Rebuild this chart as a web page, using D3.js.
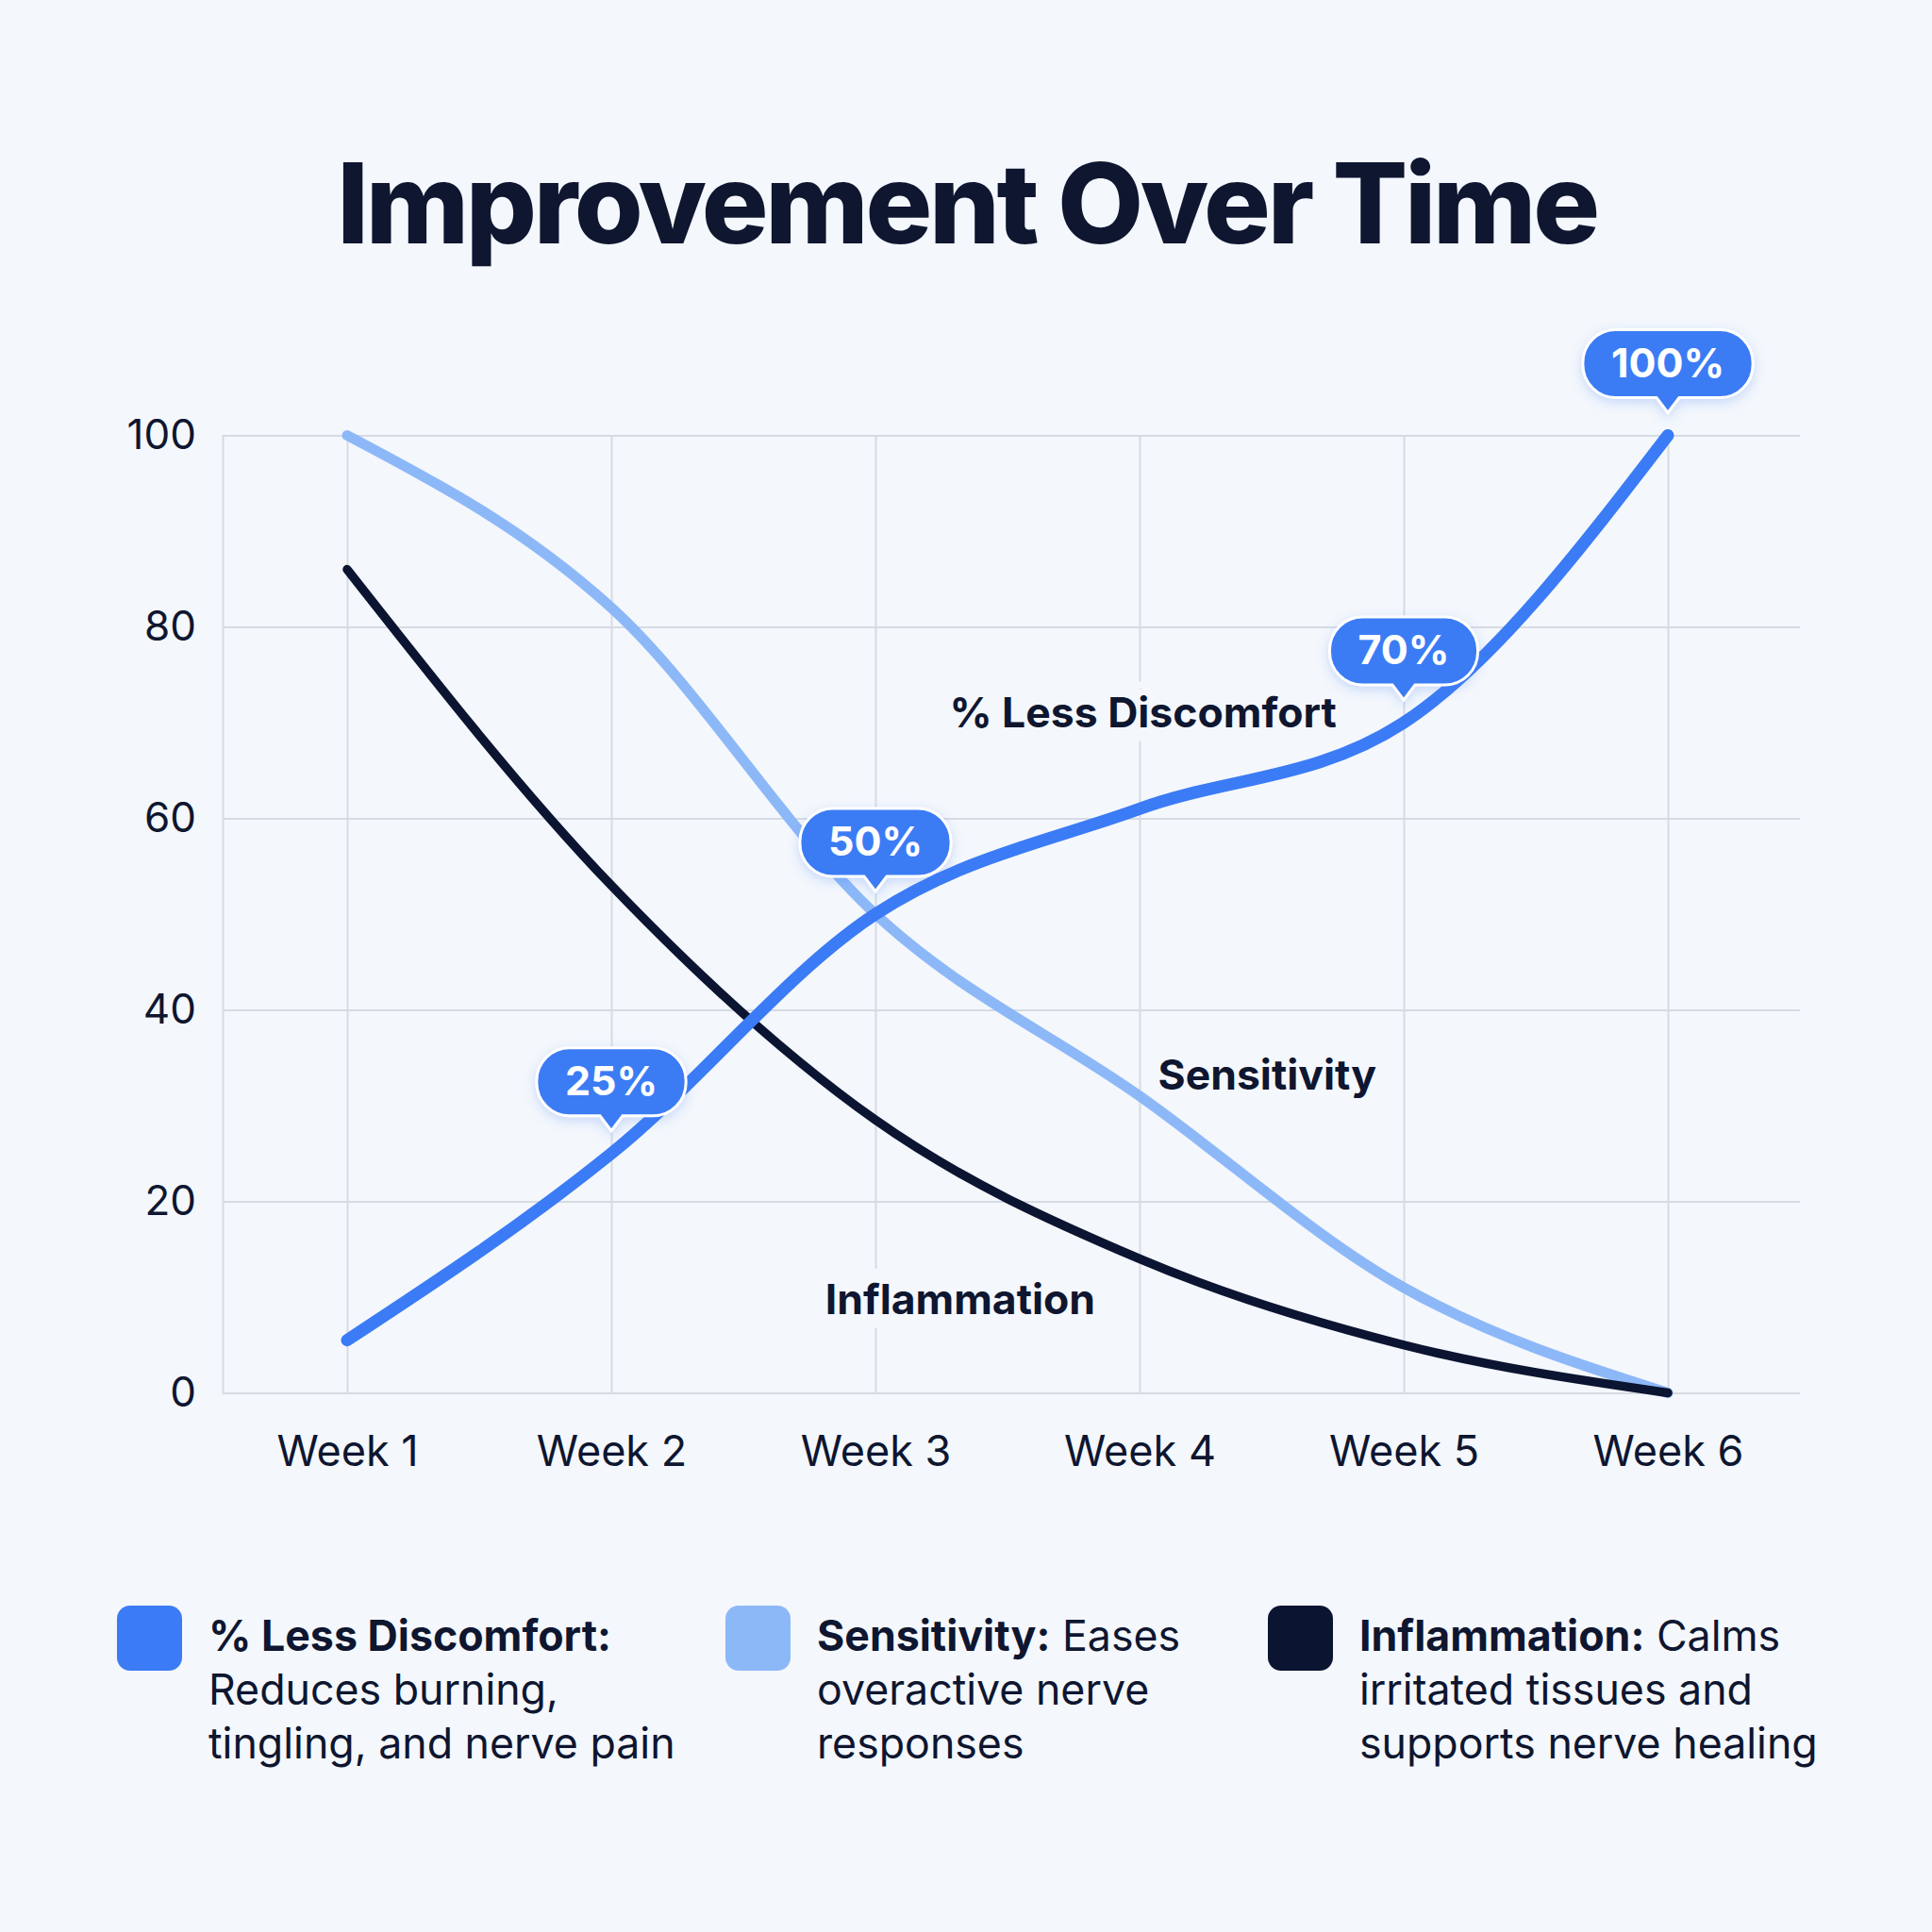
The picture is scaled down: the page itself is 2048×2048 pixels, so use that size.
<!DOCTYPE html>
<html>
<head>
<meta charset="utf-8">
<script src="https://cdn.jsdelivr.net/npm/d3@7"></script>
<style>
  html, body { margin: 0; padding: 0; background: #f4f7fc; }
  svg { display: block; }
  text { font-family: Inter, "Noto Sans", sans-serif; }
</style>
</head>
<body>
<script>
// ---- data ----
const weeks = ["Week 1", "Week 2", "Week 3", "Week 4", "Week 5", "Week 6"];
const discomfort   = [5.5, 25, 50, 61, 70, 100];
const sensitivity  = [100, 82, 50, 31, 11, 0];
const inflammation = [86, 53, 28.5, 14, 5, 0];
const yTicks = [0, 20, 40, 60, 80, 100];
const calloutWeeks  = ["Week 2", "Week 3", "Week 5", "Week 6"];
const calloutValues = [25, 50, 70, 100];
const calloutLabels = ["25%", "50%", "70%", "100%"];
const seriesNames = ["% Less Discomfort", "Sensitivity", "Inflammation"];
const legendLines = [
  [": ", "Reduces burning,", "tingling, and nerve pain"],
  [": Eases", "overactive nerve", "responses"],
  [": Calms", "irritated tissues and", "supports nerve healing"]
];
const title = "Improvement Over Time";

// ---- layout ----
const W = 2048, H = 2048;
const colors = ["#3b7bf5", "#8db8f8", "#0b1431"];
const widths = [13, 11, 9.5];
const ink = "#0e1630";
const bg = "#f4f7fc";
const grid = "#d6dbe3";

const plot = { left: 236, right: 1908, top: 461.5, bottom: 1476.5 };

const svg = d3.select("body").append("svg").attr("width", W).attr("height", H);
svg.append("rect").attr("width", W).attr("height", H).attr("fill", bg);

const defs = svg.append("defs");
const f = defs.append("filter").attr("id", "shadow").attr("x", "-30%").attr("y", "-30%").attr("width", "160%").attr("height", "170%");
f.append("feDropShadow").attr("dx", 0).attr("dy", 4).attr("stdDeviation", 6).attr("flood-color", "#3b7bf5").attr("flood-opacity", 0.25);

// title
svg.append("text").attr("x", 1025).attr("y", 258).attr("text-anchor", "middle")
  .attr("font-size", 118).attr("font-weight", 800).attr("fill", ink)
  .attr("letter-spacing", -3.3).text(title);

const x = d3.scalePoint().domain(weeks).range([368, 1768]);
const xi = d3.scaleLinear().domain([0, weeks.length - 1]).range([x(weeks[0]), x(weeks[weeks.length - 1])]);
const y = d3.scaleLinear().domain([0, 100]).range([plot.bottom, plot.top]);

// gridlines via axes
const yAxis = d3.axisLeft(y).tickValues(yTicks).tickSize(-(plot.right - plot.left)).tickPadding(28).tickFormat(d3.format("d"));
const gy = svg.append("g").attr("transform", `translate(${plot.left},0)`).call(yAxis);
gy.select(".domain").attr("stroke", grid).attr("stroke-width", 2);
gy.selectAll(".tick line").attr("stroke", grid).attr("stroke-width", 2);
gy.selectAll(".tick text").attr("font-size", 44).attr("fill", ink).attr("font-family", "Inter, sans-serif");

const xAxis = d3.axisBottom(x).tickSize(-(plot.bottom - plot.top)).tickPadding(46);
const gx = svg.append("g").attr("transform", `translate(0,${plot.bottom})`).call(xAxis);
gx.select(".domain").remove();
gx.selectAll(".tick line").attr("stroke", grid).attr("stroke-width", 2);
gx.selectAll(".tick text").attr("font-size", 45).attr("fill", ink).attr("font-family", "Inter, sans-serif");

// inline series labels (with background halo)
const inline = [
  { name: seriesNames[0], xi: 2.28, v: 69.5 },
  { name: seriesNames[1], xi: 3.07, v: 31.7 },
  { name: seriesNames[2], xi: 1.81, v: 8.2 }
];
svg.append("g").selectAll("text").data(inline).join("text")
  .attr("x", d => xi(d.xi)).attr("y", d => y(d.v))
  .attr("font-size", 44.5).attr("font-weight", 700).attr("fill", ink)
  .attr("stroke", bg).attr("stroke-width", 30).attr("stroke-linejoin", "round")
  .attr("paint-order", "stroke")
  .text(d => d.name);

// lines
const line = d3.line().x((d, i) => x(weeks[i])).y(d => y(d)).curve(d3.curveMonotoneX);
const series = [discomfort, sensitivity, inflammation];
const drawOrder = [1, 2, 0];
svg.append("g").selectAll("path").data(drawOrder).join("path")
  .attr("d", k => line(series[k]))
  .attr("fill", "none")
  .attr("stroke", k => colors[k])
  .attr("stroke-width", k => widths[k])
  .attr("stroke-linecap", "round")
  .attr("stroke-linejoin", "round");

// callouts
function bubblePath(w, h, r, ph, pw) {
  const top = -ph - h, bot = -ph, l = -w / 2, rr = w / 2;
  return `M${l + r},${top} H${rr - r} A${r},${r} 0 0 1 ${rr},${top + r} V${bot - r} A${r},${r} 0 0 1 ${rr - r},${bot}` +
         ` H${pw} L0,0 L${-pw},${bot} H${l + r} A${r},${r} 0 0 1 ${l},${bot - r} V${top + r} A${r},${r} 0 0 1 ${l + r},${top} Z`;
}
const cg = svg.append("g");
calloutWeeks.forEach((wk, i) => {
  const g = cg.append("g").attr("transform", `translate(${x(wk)},${y(calloutValues[i]) - 24})`);
  const path = g.append("path");
  const t = g.append("text").attr("x", 0).attr("y", -16 - 37 + 15).attr("text-anchor", "middle")
    .attr("font-size", 43).attr("font-weight", 700).attr("fill", "#ffffff").text(calloutLabels[i]);
  const tw = t.node().getComputedTextLength();
  path.attr("d", bubblePath(tw + 60, 72, 35, 16, 12))
    .attr("fill", "#3b7bf5").attr("stroke", "#ffffff").attr("stroke-width", 3)
    .attr("filter", "url(#shadow)");
});

// legend
const legendX = [124, 769, 1344];
const lg = svg.append("g");
seriesNames.forEach((nm, i) => {
  const g = lg.append("g").attr("transform", `translate(${legendX[i]},1702)`);
  g.append("rect").attr("width", 69).attr("height", 69).attr("rx", 14).attr("fill", colors[i]);
  const t = g.append("text").attr("x", 97).attr("y", 48).attr("font-size", 44.7).attr("fill", ink);
  t.append("tspan").attr("font-weight", 700).text(nm + ":");
  const rest = legendLines[i][0].replace(/^:\s?/, "");
  if (rest) t.append("tspan").attr("font-weight", 400).text(" " + rest);
  legendLines[i].slice(1).forEach((ln, j) => {
    g.append("text").attr("x", 97).attr("y", 48 + 57 * (j + 1)).attr("font-size", 44.7).attr("fill", ink).text(ln);
  });
});
</script>
</body>
</html>
